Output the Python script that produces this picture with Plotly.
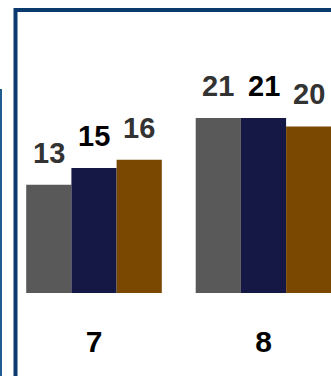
import plotly.graph_objects as go

categories = ["7", "8"]
series_names = ["A", "B", "C"]
values_a = [13, 21]
values_b = [15, 21]
values_c = [16, 20]
bar_colors = ["#595959", "#151745", "#7a4800"]
label_colors = ["#333333", "#000000", "#333333"]

W, H = 331, 376
PLOT_H = 293
BARGAP = 0.2

fig = go.Figure()
all_vals = [values_a, values_b, values_c]
for name, vals, col in zip(series_names, all_vals, bar_colors):
    fig.add_trace(go.Bar(x=categories, y=vals, name=name, marker=dict(color=col, line=dict(width=0))))

w = (1 - BARGAP) / 3
annotations = []
for s, (vals, lc) in enumerate(zip(all_vals, label_colors)):
    for i, v in enumerate(vals):
        annotations.append(dict(
            x=i + (s - 1) * w, y=v, xref="x", yref="y",
            text=str(v), showarrow=False, yanchor="bottom", yshift=14,
            font=dict(family="Liberation Sans", size=29, color=lc, weight="bold"),
        ))

def px(x):
    return x / W

def py(y):
    return 1 - y / PLOT_H

shapes = [
    dict(type="line", xref="paper", yref="paper", x0=px(15.5), x1=px(W + 10), y0=py(10), y1=py(10),
         line=dict(color="#0a3a6e", width=4), layer="below"),
    dict(type="line", xref="paper", yref="paper", x0=px(15.5), x1=px(15.5), y0=py(8), y1=py(H + 10),
         line=dict(color="#0a3a6e", width=4), layer="below"),
    dict(type="line", xref="paper", yref="paper", x0=px(1), x1=px(1), y0=py(89), y1=py(H + 10),
         line=dict(color="#1f5b91", width=2), layer="below"),
]

fig.update_layout(
    width=W, height=H,
    margin=dict(l=0, r=0, t=0, b=H - PLOT_H, pad=0),
    paper_bgcolor="white", plot_bgcolor="white",
    barmode="group", bargap=BARGAP, bargroupgap=0,
    showlegend=False,
    annotations=annotations,
    shapes=shapes,
    xaxis=dict(type="category", range=[-94 / 169.5, (W - 94) / 169.5], showgrid=False, zeroline=False,
               showline=False, ticks="", ticklabelstandoff=28,
               tickfont=dict(family="Liberation Sans", size=30, color="#000000", weight="bold")),
    yaxis=dict(range=[0, PLOT_H / 8.33], visible=False, showgrid=False, zeroline=False),
)

fig.write_html("out.html")
